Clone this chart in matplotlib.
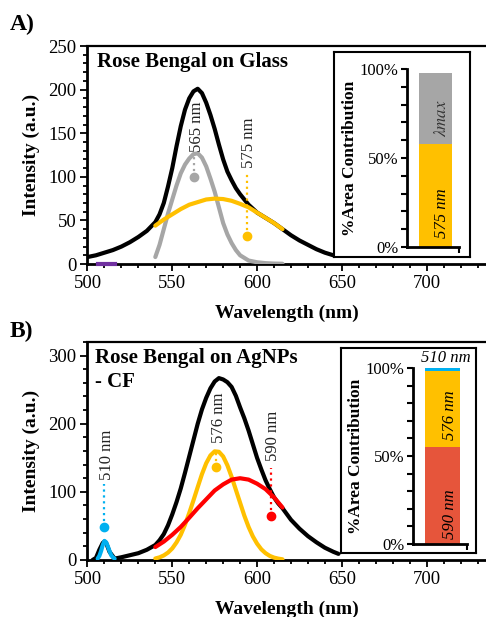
import numpy as np
import matplotlib
matplotlib.use('Agg')
import matplotlib.pyplot as plt
from matplotlib.ticker import MultipleLocator

plt.rcParams['font.family'] = ['Liberation Serif', 'DejaVu Serif']
plt.rcParams['mathtext.fontset'] = 'stix'

# ---- Panel A data (Rose Bengal on glass) ----
a_total_x = [500, 505, 510, 515, 520, 525, 530, 535, 540, 542.5, 545, 547.5, 550, 552.5,
             555, 557.5, 560, 562.5, 565, 567.5, 570, 572.5, 575, 577.5, 580, 582.5, 585,
             587.5, 590, 592.5, 595, 600, 605, 610, 615, 620, 625, 630, 635, 640, 645]
a_total_y = [8, 10, 13, 16, 20, 25, 31, 38, 48, 57, 70, 89, 110, 135,
             158, 177, 190, 198, 201, 196, 185, 171, 155, 137, 120, 106, 96,
             87, 80, 74, 68, 59, 53, 47, 40, 33, 27, 22, 17, 13, 10]
a_565_x = [540, 542.5, 545, 547.5, 550, 552.5, 555, 557.5, 560, 562.5, 565, 567.5, 570,
           572.5, 575, 577.5, 580, 582.5, 585, 587.5, 590, 595, 600, 605, 610, 615]
a_565_y = [8, 22, 40, 58, 74, 90, 104, 114, 121, 126, 127, 122, 112,
           98, 83, 65, 47, 34, 24, 16, 10, 4, 2, 1, 0.5, 0.3]
a_575_x = [540, 545, 550, 555, 560, 565, 570, 575, 580, 585, 590, 595, 600, 605, 610, 615]
a_575_y = [44, 51, 57, 63, 68, 71, 74, 75, 74.5, 72.5, 69, 65, 59, 53, 47, 40]
a_510_x = [506, 516]
a_510_y = [0, 0]
a_peaks = [563, 594]
a_dots = [100, 32]
a_dot_tops = [124, 106]
a_labels = ['565 nm', '575 nm']
a_label_y = [128, 110]
a_bar = [58, 40]          # 575 nm, lambda max

# ---- Panel B data (Rose Bengal on AgNPs - CF) ----
b_total_x = [503, 505, 507, 509, 510, 511, 513, 516, 520, 525, 530, 535, 540, 542.5, 545,
             547.5, 550, 552.5, 555, 557.5, 560, 562.5, 565, 567.5, 570, 572.5, 575, 577.5,
             580, 582.5, 585, 587.5, 590, 592.5, 595, 597.5, 600, 602.5, 605, 607.5, 610,
             612.5, 615, 620, 625, 630, 635, 640, 645, 648]
b_total_y = [0, 3, 15, 25, 27, 25, 12, 2, 4, 7, 10, 15, 22, 29, 38,
             51, 67, 85, 105, 128, 152, 176, 200, 221, 238, 252, 262, 267,
             265, 261, 254, 241, 224, 208, 190, 170, 150, 133, 117, 104, 92,
             83, 76, 59, 46, 35, 26, 18, 12, 9]
b_510_x = [506, 507, 508, 509, 510, 511, 512, 513, 514, 515, 516]
b_510_y = [2, 6, 13, 22, 28, 26, 20, 13, 7, 4, 2]
b_576_x = [540, 542.5, 545, 547.5, 550, 552.5, 555, 557.5, 560, 562.5, 565, 567.5, 570,
           572.5, 575, 577.5, 580, 582.5, 585, 587.5, 590, 592.5, 595, 597.5, 600, 602.5,
           605, 607.5, 610, 612.5, 615]
b_576_y = [2.2, 3.9, 6.7, 10.9, 17, 25.8, 37, 51.7, 69, 87.6, 107, 126, 142,
           153.5, 159.5, 158.8, 152, 139, 122, 103, 84, 65, 48.5, 34.7, 24, 15.7,
           10, 6, 3.5, 2, 1]
b_590_x = [540, 545, 550, 555, 560, 565, 570, 575, 580, 585, 590, 595, 600, 605, 610, 615]
b_590_y = [19, 27, 37, 48.5, 62, 76, 89, 102, 111, 118, 120, 118, 112, 104, 92, 77]
b_peaks = [510, 576, 608]
b_dots = [48, 137, 65]
b_dot_tops = [112, 162, 135]
b_labels = ['510 nm', '576 nm', '590 nm']
b_label_y = [117, 172, 146]
b_bar = [55, 43.5, 1.5]   # 590, 576, 510 nm

black = '#000000'
grey = '#A6A6A6'
yellow = '#FFC000'
purple = '#7030A0'
blue = '#00B0F0'
red = '#FF0000'
bar_red = '#E6553B'

fig = plt.figure(figsize=(4.86, 6.17), dpi=100)


def style_main(ax, ymax, ymajor, yminor):
    ax.set_xlim(500, 735)
    ax.set_ylim(0, ymax)
    ax.xaxis.set_major_locator(MultipleLocator(50))
    ax.xaxis.set_minor_locator(MultipleLocator(10))
    ax.yaxis.set_major_locator(MultipleLocator(ymajor))
    ax.yaxis.set_minor_locator(MultipleLocator(yminor))
    ax.tick_params(which='both', direction='out', width=1.3, labelsize=13.5, pad=3)
    ax.tick_params(which='major', length=5)
    ax.tick_params(which='minor', length=3)
    ax.spines['right'].set_visible(False)
    ax.spines['left'].set_linewidth(2)
    ax.spines['bottom'].set_linewidth(2)
    ax.spines['top'].set_linewidth(1.6)
    ax.set_xlabel('Wavelength (nm)', fontsize=14, fontweight='bold', labelpad=9)
    ax.set_ylabel('Intensity (a.u.)', fontsize=14, fontweight='bold', labelpad=6)


def peak_marks(ax, xs, dots, tops, labels, label_y, colors):
    for x, d, t, lab, ly, c in zip(xs, dots, tops, labels, label_y, colors):
        ax.plot([x, x], [d, t], ls=':', color=c, lw=1.6, zorder=4)
        ax.plot(x, d, 'o', color=c, ms=6, zorder=5)
        ax.text(x + 1.5, ly, lab, rotation=90, ha='center', va='bottom',
                fontsize=12, color='#222222', zorder=6)


def bar_inset(box_rect, ax_rect, values, colors):
    box = fig.add_axes(box_rect)
    box.set_xticks([])
    box.set_yticks([])
    for s in box.spines.values():
        s.set_linewidth(1.5)
    box.set_facecolor('white')
    bx = fig.add_axes(ax_rect)
    bottom = 0
    for v, c in zip(values, colors):
        bx.bar(0.55, v, width=0.64, bottom=bottom, color=c, zorder=2)
        bottom += v
    bx.set_xlim(0, 1)
    bx.set_ylim(0, 100)
    bx.set_facecolor('none')
    bx.spines['top'].set_visible(False)
    bx.spines['right'].set_visible(False)
    bx.spines['left'].set_linewidth(2)
    bx.spines['bottom'].set_linewidth(2)
    bx.set_xticks([1.0])
    bx.set_xticklabels([])
    bx.yaxis.set_minor_locator(MultipleLocator(10))
    bx.set_yticks([0, 50, 100])
    bx.set_yticklabels(['0%', '50%', '100%'])
    bx.tick_params(which='both', direction='out', width=1.5, labelsize=12, pad=2)
    bx.tick_params(which='major', length=4)
    bx.tick_params(which='minor', length=4)
    bx.set_ylabel('%Area Contribution', fontsize=12.5, fontweight='bold', labelpad=1)
    return bx


# ---------------- Panel A ----------------
axA = fig.add_axes([0.18, 0.5721, 0.82, 0.3533])
axA.plot(a_total_x, a_total_y, color=black, lw=3, zorder=2, solid_capstyle='round')
axA.plot(a_565_x, a_565_y, color=grey, lw=3, zorder=3, solid_capstyle='round')
axA.plot(a_575_x, a_575_y, color=yellow, lw=3, zorder=3, solid_capstyle='round')
axA.plot(a_510_x, a_510_y, color=purple, lw=3, zorder=3, clip_on=False)
peak_marks(axA, a_peaks, a_dots, a_dot_tops, a_labels, a_label_y, [grey, yellow])
style_main(axA, 250, 50, 10)
axA.text(0.024, 0.927, 'Rose Bengal on Glass', transform=axA.transAxes,
         fontsize=15, fontweight='bold', va='center', ha='left')
fig.text(0.02, 0.96, 'A)', fontsize=17, fontweight='bold', va='center')

bxA = bar_inset([0.6872, 0.5835, 0.2798, 0.3323], [0.8374, 0.5997, 0.107, 0.2885],
                a_bar, [yellow, grey])
bxA.text(0.67, 5, '575 nm', rotation=90, ha='center', va='bottom',
         fontsize=12, style='italic', zorder=3)
bxA.text(0.67, 62, r'$\lambda max$', rotation=90, ha='center', va='bottom',
         fontsize=12, zorder=3, color='#333333')

# ---------------- Panel B ----------------
axB = fig.add_axes([0.18, 0.0924, 0.82, 0.3533])
axB.plot(b_total_x, b_total_y, color=black, lw=3, zorder=2, solid_capstyle='round')
axB.plot(b_510_x, b_510_y, color=blue, lw=3, zorder=3, solid_capstyle='round')
axB.plot(b_576_x, b_576_y, color=yellow, lw=3, zorder=3, solid_capstyle='round')
axB.plot(b_590_x, b_590_y, color=red, lw=3, zorder=3, solid_capstyle='round')
peak_marks(axB, b_peaks, b_dots, b_dot_tops, b_labels, b_label_y, [blue, yellow, red])
style_main(axB, 320, 100, 20)
axB.text(0.019, 0.925, 'Rose Bengal on AgNPs', transform=axB.transAxes,
         fontsize=15, fontweight='bold', va='center', ha='left')
axB.text(0.019, 0.818, '- CF', transform=axB.transAxes,
         fontsize=15, fontweight='bold', va='center', ha='left')
fig.text(0.02, 0.4625, 'B)', fontsize=17, fontweight='bold', va='center')

bxB = bar_inset([0.7016, 0.1037, 0.2778, 0.3323], [0.8498, 0.1183, 0.1111, 0.2853],
                b_bar, [bar_red, yellow, blue])
bxB.text(0.68, 3, '590 nm', rotation=90, ha='center', va='bottom',
         fontsize=12, style='italic', zorder=3)
bxB.text(0.68, 59, '576 nm', rotation=90, ha='center', va='bottom',
         fontsize=12, style='italic', zorder=3)
bxB.text(0.6, 101, '510 nm', ha='center', va='bottom',
         fontsize=12, style='italic', zorder=3)

fig.savefig('out.png', dpi=100)
